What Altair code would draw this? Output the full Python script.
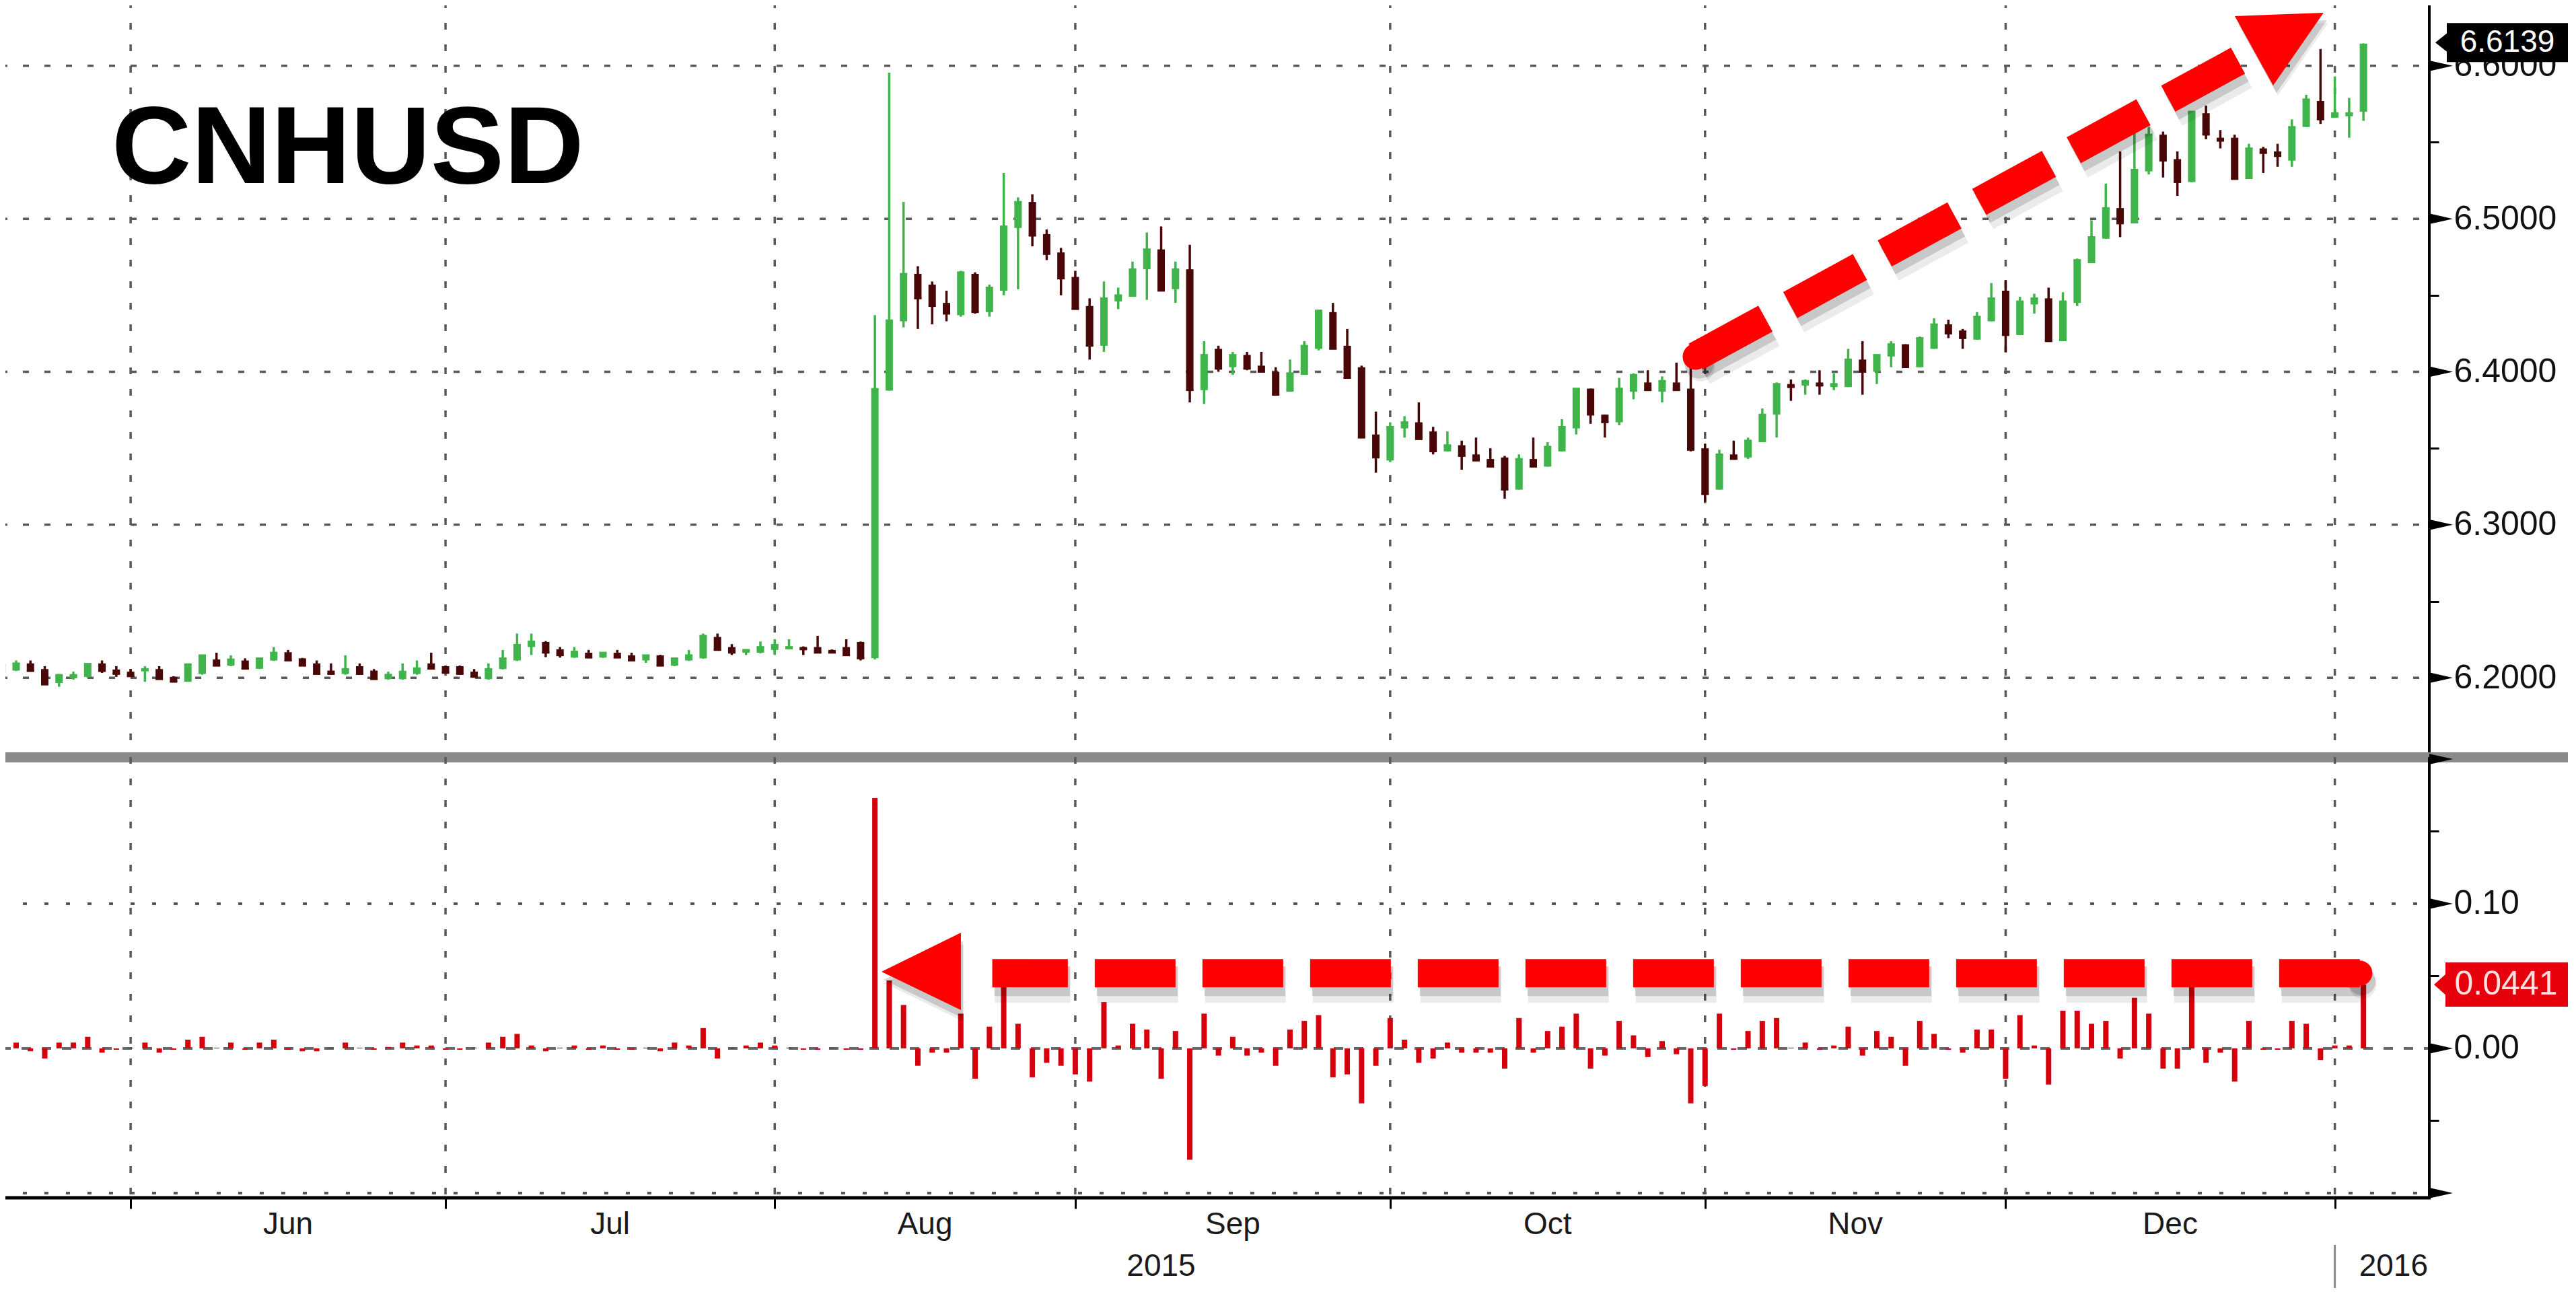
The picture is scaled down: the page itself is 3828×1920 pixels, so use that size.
import altair as alt
import pandas as pd

# ---------------- data ----------------
opens = [6.2032, 6.2047, 6.2094, 6.2057, 6.1966, 6.1996, 6.2006, 6.2094, 6.2054, 6.2040,
         6.2042, 6.2057, 6.2006, 6.1974, 6.2025, 6.2120, 6.2079, 6.2113, 6.2059, 6.2113,
         6.2167, 6.2127, 6.2094, 6.2047, 6.2025, 6.2076, 6.2047, 6.1991, 6.1991, 6.2025,
         6.2094, 6.2076, 6.2076, 6.2040, 6.1991, 6.2057, 6.2113, 6.2201, 6.2234, 6.2186,
         6.2132, 6.2164, 6.2132, 6.2164, 6.2147, 6.2113, 6.2147, 6.2079, 6.2113, 6.2127,
         6.2267, 6.2201, 6.2164, 6.2164, 6.2182, 6.2186, 6.2201, 6.2201, 6.2182, 6.2201,
         6.2234, 6.2127, 6.3877, 6.4330, 6.4640, 6.4570, 6.4450, 6.4370, 6.4640, 6.4390,
         6.4530, 6.4940, 6.5110, 6.4900, 6.4780, 6.4620, 6.4430, 6.4170, 6.4460, 6.4490,
         6.4670, 6.4800, 6.4540, 6.4670, 6.3880, 6.4150, 6.4030, 6.4110, 6.4040, 6.4000,
         6.3870, 6.3980, 6.4150, 6.4390, 6.4170, 6.4030, 6.3590, 6.3420, 6.3630, 6.3670,
         6.3610, 6.3480, 6.3520, 6.3460, 6.3430, 6.3440, 6.3230, 6.3430, 6.3380, 6.3480,
         6.3630, 6.3890, 6.3720, 6.3670, 6.3870, 6.3930, 6.3870, 6.3930, 6.3890, 6.3500,
         6.3230, 6.3460, 6.3440, 6.3540, 6.3720, 6.3920, 6.3910, 6.3930, 6.3900, 6.3900,
         6.4080, 6.4000, 6.4100, 6.4180, 6.4030, 6.4150, 6.4310, 6.4270, 6.4210, 6.4330,
         6.4530, 6.4240, 6.4440, 6.4480, 6.4200, 6.4450, 6.4710, 6.4870, 6.5070, 6.4970,
         6.5310, 6.5550, 6.5390, 6.5240, 6.5690, 6.5530, 6.5530, 6.5260, 6.5460, 6.5440,
         6.5380, 6.5600, 6.5770, 6.5660, 6.5670, 6.5700]
highs = [6.2090, 6.2113, 6.2113, 6.2076, 6.2025, 6.2040, 6.2094, 6.2113, 6.2076, 6.2057,
         6.2076, 6.2076, 6.2010, 6.2094, 6.2150, 6.2164, 6.2147, 6.2127, 6.2130, 6.2201,
         6.2182, 6.2130, 6.2113, 6.2094, 6.2147, 6.2094, 6.2057, 6.2040, 6.2094, 6.2113,
         6.2164, 6.2080, 6.2080, 6.2057, 6.2094, 6.2182, 6.2289, 6.2289, 6.2240, 6.2201,
         6.2201, 6.2182, 6.2167, 6.2182, 6.2164, 6.2150, 6.2150, 6.2130, 6.2182, 6.2289,
         6.2289, 6.2220, 6.2185, 6.2237, 6.2252, 6.2252, 6.2205, 6.2274, 6.2185, 6.2252,
         6.2237, 6.4370, 6.5955, 6.5110, 6.4690, 6.4590, 6.4530, 6.4660, 6.4650, 6.4570,
         6.5300, 6.5140, 6.5160, 6.4930, 6.4810, 6.4660, 6.4480, 6.4590, 6.4550, 6.4720,
         6.4910, 6.4950, 6.4720, 6.4830, 6.4200, 6.4170, 6.4130, 6.4130, 6.4130, 6.4030,
         6.4080, 6.4200, 6.4400, 6.4450, 6.4280, 6.4040, 6.3740, 6.3670, 6.3710, 6.3800,
         6.3640, 6.3610, 6.3550, 6.3570, 6.3500, 6.3450, 6.3460, 6.3570, 6.3540, 6.3690,
         6.3890, 6.3890, 6.3720, 6.3960, 6.3990, 6.4010, 6.3970, 6.4060, 6.4060, 6.3530,
         6.3490, 6.3550, 6.3570, 6.3760, 6.3930, 6.3950, 6.3950, 6.4010, 6.3990, 6.4150,
         6.4200, 6.4110, 6.4200, 6.4180, 6.4230, 6.4350, 6.4340, 6.4280, 6.4390, 6.4580,
         6.4600, 6.4490, 6.4510, 6.4550, 6.4520, 6.4740, 6.4990, 6.5230, 6.5440, 6.5560,
         6.5600, 6.5570, 6.5440, 6.5700, 6.5740, 6.5580, 6.5550, 6.5490, 6.5470, 6.5490,
         6.5650, 6.5810, 6.6110, 6.5930, 6.5790, 6.6146]
lows = [6.2020, 6.2044, 6.2042, 6.1956, 6.1941, 6.1988, 6.2000, 6.2032, 6.2006, 6.2006,
        6.1974, 6.1991, 6.1974, 6.1974, 6.2020, 6.2079, 6.2076, 6.2059, 6.2057, 6.2110,
        6.2113, 6.2079, 6.2025, 6.2020, 6.2020, 6.2020, 6.1991, 6.1988, 6.1988, 6.2020,
        6.2059, 6.2030, 6.2025, 6.2006, 6.1988, 6.2055, 6.2110, 6.2149, 6.2135, 6.2132,
        6.2130, 6.2130, 6.2130, 6.2130, 6.2110, 6.2098, 6.2079, 6.2076, 6.2110, 6.2125,
        6.2180, 6.2149, 6.2149, 6.2160, 6.2149, 6.2185, 6.2149, 6.2160, 6.2160, 6.2145,
        6.2113, 6.2120, 6.3877, 6.4290, 6.4280, 6.4310, 6.4330, 6.4360, 6.4380, 6.4360,
        6.4500, 6.4540, 6.4820, 6.4730, 6.4500, 6.4410, 6.4080, 6.4130, 6.4410, 6.4490,
        6.4470, 6.4530, 6.4450, 6.3800, 6.3790, 6.4000, 6.3980, 6.4010, 6.4000, 6.3850,
        6.3870, 6.3980, 6.4140, 6.4150, 6.3960, 6.3570, 6.3340, 6.3410, 6.3570, 6.3560,
        6.3460, 6.3480, 6.3360, 6.3420, 6.3380, 6.3170, 6.3230, 6.3380, 6.3380, 6.3480,
        6.3590, 6.3660, 6.3570, 6.3650, 6.3820, 6.3880, 6.3800, 6.3880, 6.3480, 6.3150,
        6.3230, 6.3430, 6.3430, 6.3540, 6.3570, 6.3810, 6.3850, 6.3850, 6.3880, 6.3900,
        6.3850, 6.3920, 6.4030, 6.4030, 6.4030, 6.4150, 6.4220, 6.4150, 6.4210, 6.4330,
        6.4130, 6.4240, 6.4380, 6.4200, 6.4200, 6.4430, 6.4710, 6.4870, 6.4880, 6.4970,
        6.5290, 6.5270, 6.5150, 6.5240, 6.5520, 6.5460, 6.5260, 6.5260, 6.5300, 6.5340,
        6.5340, 6.5600, 6.5620, 6.5660, 6.5530, 6.5640]
closes = [6.2084, 6.2094, 6.2044, 6.1956, 6.2018, 6.2018, 6.2091, 6.2044, 6.2025, 6.2010,
          6.2057, 6.1991, 6.1974, 6.2088, 6.2147, 6.2079, 6.2120, 6.2059, 6.2127, 6.2164,
          6.2113, 6.2079, 6.2025, 6.2025, 6.2057, 6.2025, 6.1991, 6.2020, 6.2040, 6.2062,
          6.2059, 6.2032, 6.2025, 6.2006, 6.2057, 6.2127, 6.2215, 6.2237, 6.2164, 6.2147,
          6.2171, 6.2132, 6.2164, 6.2132, 6.2113, 6.2147, 6.2079, 6.2127, 6.2147, 6.2274,
          6.2182, 6.2164, 6.2182, 6.2201, 6.2215, 6.2201, 6.2186, 6.2164, 6.2164, 6.2147,
          6.2127, 6.3888, 6.4336, 6.4640, 6.4480, 6.4430, 6.4380, 6.4650, 6.4390, 6.4550,
          6.4950, 6.5110, 6.4890, 6.4770, 6.4610, 6.4410, 6.4170, 6.4480, 6.4500, 6.4670,
          6.4800, 6.4530, 6.4670, 6.3880, 6.4110, 6.4020, 6.4110, 6.4020, 6.4000, 6.3850,
          6.3990, 6.4170, 6.4400, 6.4150, 6.3960, 6.3570, 6.3440, 6.3640, 6.3670, 6.3560,
          6.3480, 6.3520, 6.3450, 6.3420, 6.3380, 6.3230, 6.3430, 6.3380, 6.3510, 6.3640,
          6.3890, 6.3720, 6.3670, 6.3890, 6.3980, 6.3880, 6.3940, 6.3880, 6.3490, 6.3200,
          6.3460, 6.3430, 6.3550, 6.3720, 6.3920, 6.3900, 6.3940, 6.3910, 6.3920, 6.4080,
          6.4000, 6.4110, 6.4180, 6.4030, 6.4220, 6.4310, 6.4250, 6.4220, 6.4360, 6.4480,
          6.4240, 6.4460, 6.4480, 6.4200, 6.4460, 6.4730, 6.4880, 6.5070, 6.4970, 6.5320,
          6.5550, 6.5380, 6.5240, 6.5700, 6.5550, 6.5510, 6.5260, 6.5460, 6.5430, 6.5410,
          6.5600, 6.5780, 6.5650, 6.5690, 6.5690, 6.6139]
changes = [0.004, 0.004, -0.002, -0.007, 0.004, 0.004, 0.008, -0.003, -0.001, 0.0005,
           0.004, -0.003, -0.001, 0.006, 0.008, 0.0005, 0.004, -0.001, 0.004, 0.006,
           -0.001, -0.002, -0.002, 0.0005, 0.004, 0.0005, -0.001, 0.001, 0.004, 0.002,
           0.002, -0.001, -0.001, 0.0005, 0.004, 0.008, 0.010, 0.002, -0.002, 0.0005,
           0.002, -0.001, 0.002, -0.001, -0.001, 0.0005, -0.002, 0.004, 0.002, 0.014,
           -0.007, 0.0005, 0.002, 0.004, 0.002, 0.0005, -0.001, -0.001, 0.0005, -0.001,
           -0.001, 0.173, 0.047, 0.030, -0.012, -0.003, -0.003, 0.024, -0.021, 0.015,
           0.043, 0.017, -0.020, -0.010, -0.012, -0.018, -0.023, 0.032, 0.002, 0.017,
           0.013, -0.021, 0.012, -0.077, 0.024, -0.005, 0.008, -0.005, -0.003, -0.012,
           0.013, 0.019, 0.023, -0.020, -0.018, -0.038, -0.012, 0.021, 0.006, -0.010,
           -0.007, 0.004, -0.003, -0.003, -0.003, -0.014, 0.021, -0.003, 0.012, 0.015,
           0.024, -0.014, -0.005, 0.019, 0.009, -0.006, 0.005, -0.004, -0.038, -0.026,
           0.024, -0.001, 0.012, 0.019, 0.021, 0.0005, 0.004, -0.001, 0.002, 0.015,
           -0.005, 0.012, 0.008, -0.012, 0.019, 0.010, -0.001, -0.003, 0.013, 0.013,
           -0.021, 0.023, 0.002, -0.025, 0.026, 0.026, 0.017, 0.019, -0.007, 0.035,
           0.024, -0.014, -0.014, 0.045, -0.010, -0.003, -0.023, 0.019, -0.001, -0.001,
           0.019, 0.017, -0.008, 0.002, 0.002, 0.0441]

month_ticks = [9, 31, 54, 75, 97, 119, 140, 163]
month_names = ["Jun", "Jul", "Aug", "Sep", "Oct", "Nov", "Dec"]
month_label_pos = [20, 42.5, 64.5, 86, 108, 129.5, 151.5]
year_names = ["2015", "2016"]
year_label_pos = [81, 167.1]
year_break = [163]
price_major = [6.2, 6.3, 6.4, 6.5, 6.6]
price_minor = [6.25, 6.35, 6.45, 6.55]
chg_major = [-0.1, 0.0, 0.1, 0.2]
chg_minor = [-0.05, 0.05, 0.15]
chg_dotted = [-0.1, 0.1]
last_price = 6.6139
last_change = 0.0441
title_text = "CNHUSD"

# annotation arrows (in data units: trading-day index, price / change)
up_arrow_i = [118.35, 157.1]
up_arrow_v = [6.4099, 6.6078]
up_head_i = [156.01, 158.69, 162.21]
up_head_top = [6.6324, 6.6334, 6.6346]
up_head_bot = [6.6324, 6.5871, 6.6346]
dn_arrow_i = [164.75, 69.2]
dn_arrow_v = [0.052, 0.052]
dn_head_i = [61.46, 67.01]
dn_head_top = [0.053, 0.080]
dn_head_bot = [0.053, 0.0265]

# ---------------- layout / style ----------------
W = 3610
H1 = 1125
H2 = 655
XDOM = [-0.127, 169.6]
YDOM1 = [6.1482, 6.6430]
YDOM2 = [-0.1033, 0.2014]
FONT = "Liberation Sans"
GREEN = "#3fb44a"
DARK = "#4a0707"
BARRED = "#d6000c"
ARROW = "#ff0000"
GRID = "#595959"

n = len(closes)
cdf = pd.DataFrame({"i": list(range(n)), "o": opens, "h": highs, "l": lows, "c": closes})
bdf = pd.DataFrame({"i": list(range(n)), "v": changes, "z": [0.0] * n})
mt_df = pd.DataFrame({"i": month_ticks})
one = pd.DataFrame({"a": [0]})

xscale = alt.Scale(domain=XDOM, nice=False, zero=False)
ax_top = alt.Axis(orient="right", values=price_major + price_minor,
                  labelExpr="abs(datum.value*10 - round(datum.value*10)) < 0.001 ? format(datum.value, '.4f') : ''",
                  title=None, grid=False, domain=False,
                  tickColor="black", tickWidth=3, tickSize=14, labelPadding=22,
                  labelFontSize=50, labelFont=FONT, labelColor="#111", labelBaseline="middle")
ax_bot = alt.Axis(orient="right", values=chg_major + chg_minor,
                  labelExpr="(datum.value == 0.1 || datum.value == 0) ? format(datum.value, '.2f') : ''",
                  title=None, grid=False, domain=False,
                  tickColor="black", tickWidth=3, tickSize=14, labelPadding=22,
                  labelFontSize=50, labelFont=FONT, labelColor="#111", labelBaseline="middle")
ax_x = alt.Axis(orient="bottom", values=month_ticks, labels=False, title=None, grid=False,
                domain=False, tickColor="black", tickWidth=3, tickSize=16)

ys1 = alt.Scale(domain=YDOM1, nice=False, zero=False)
ys2 = alt.Scale(domain=YDOM2, nice=False, zero=False)


def X(field, bottom=False):
    return alt.X(field, type="quantitative", scale=xscale, axis=(ax_x if bottom else None))


def Y1(field):
    return alt.Y(field, type="quantitative", scale=ys1, axis=ax_top)


def Y2(field):
    return alt.Y(field, type="quantitative", scale=ys2, axis=ax_bot)


upcol = alt.condition("datum.c >= datum.o", alt.value(GREEN), alt.value(DARK))

# ---------------- top panel ----------------
vgrid1 = alt.Chart(mt_df).mark_rule(color=GRID, strokeWidth=3.5, strokeDash=[10, 22]).encode(
    x=X("i"), y=alt.value(2), y2=alt.value(H1))
hgrid1 = alt.Chart(pd.DataFrame({"p": price_major})).mark_rule(
    color=GRID, strokeWidth=3.5, strokeDash=[9, 23]).encode(
    y=Y1("p"), x=alt.value(2), x2=alt.value(W))
wicks = alt.Chart(cdf).mark_rule(strokeWidth=3.5, clip=True).encode(
    x=X("i"), y=Y1("l"), y2="h", color=upcol)
bodies = alt.Chart(cdf).mark_rule(strokeWidth=11, clip=True).encode(
    x=X("i"), y=Y1("o"), y2="c", color=upcol)
dojis = alt.Chart(cdf).mark_point(shape="M-1,-0.25L1,-0.25L1,0.25L-1,0.25Z", size=121,
                                  filled=True, opacity=1, clip=True).encode(
    x=X("i"), y=Y1("c"), color=upcol)
title = alt.Chart(pd.DataFrame({"t": [title_text]})).mark_text(
    font=FONT, fontSize=164, fontWeight="bold", align="left", baseline="alphabetic",
    color="black").encode(text="t:N", x=alt.value(166), y=alt.value(272))

up_df = pd.DataFrame({"i": up_arrow_i, "v": up_arrow_v, "k": [0, 1]})
up_start = pd.DataFrame({"i": up_arrow_i[:1], "v": up_arrow_v[:1]})
up_head = pd.DataFrame({"i": up_head_i, "t": up_head_top, "b": up_head_bot})
up_layers = []
for dx, dy, col, op, sw in [(7, 15, "#000", 0.08, 58), (5, 11, "#000", 0.15, 46), (0, 0, ARROW, 1, 44)]:
    up_layers.append(alt.Chart(up_df).mark_line(color=col, opacity=op, strokeWidth=sw,
                                                strokeDash=[118, 42], strokeCap="butt",
                                                strokeJoin="bevel",
                                                xOffset=dx, yOffset=dy).encode(
        x=X("i"), y=Y1("v"), order="k:Q"))
    up_layers.append(alt.Chart(up_start).mark_point(shape="circle", filled=True, color=col,
                                                    opacity=op, size=1520 if sw == 44 else 1900,
                                                    xOffset=dx, yOffset=dy).encode(
        x=X("i"), y=Y1("v")))
    up_layers.append(alt.Chart(up_head).mark_area(color=col, opacity=op,
                                                  xOffset=dx, x2Offset=dx,
                                                  yOffset=dy, y2Offset=dy).encode(
        x=X("i"), y=Y1("t"), y2="b"))

lp_df = pd.DataFrame({"v": [last_price], "t": [f"{last_price:.4f}"],
                      "top": [last_price + 0.0140], "bot": [last_price - 0.0115]})
tag1 = alt.Chart(lp_df).mark_rect(color="black").encode(
    y=Y1("top"), y2="bot", x=alt.value(W + 26), x2=alt.value(W + 206))
tag1p = alt.Chart(lp_df).mark_point(shape="M-1,0L1,-1.6L1,1.6Z", filled=True, color="black",
                                    opacity=1, size=324, yOffset=-3).encode(
    y=Y1("v"), x=alt.value(W + 18))
tag1t = alt.Chart(lp_df).mark_text(font=FONT, fontSize=46, color="white", align="center",
                                   baseline="middle", yOffset=-3).encode(
    y=Y1("v"), x=alt.value(W + 116), text="t:N")
TRI = "M-1,-0.45L1,0L-1,0.45Z"
tri1 = alt.Chart(pd.DataFrame({"p": price_major})).mark_point(
    shape=TRI, filled=True, color="black", opacity=1, size=1225).encode(
    y=Y1("p"), x=alt.value(W + 17.5))
yline1 = alt.Chart(one).mark_rect(color="black").encode(
    x=alt.value(W - 2), x2=alt.value(W + 2), y=alt.value(0), y2=alt.value(H1))
sep = alt.Chart(one).mark_rect(color="#8a8a8a").encode(
    x=alt.value(0), x2=alt.value(3816), y=alt.value(H1 - 7), y2=alt.value(H1 + 8))

top = alt.layer(vgrid1, hgrid1, wicks, bodies, dojis, title, *up_layers, yline1, tri1,
                tag1, tag1p, tag1t, sep).properties(width=W, height=H1)

# ---------------- bottom panel ----------------
vgrid2 = alt.Chart(mt_df).mark_rule(color=GRID, strokeWidth=3.5, strokeDash=[10, 22]).encode(
    x=X("i", True), y=alt.value(0), y2=alt.value(H2))
hgrid2 = alt.Chart(pd.DataFrame({"p": chg_dotted})).mark_rule(
    color=GRID, strokeWidth=4, strokeDash=[6, 26]).encode(
    y=Y2("p"), x=alt.value(2), x2=alt.value(W))
zline = alt.Chart(pd.DataFrame({"p": [0.0]})).mark_rule(
    color="#666", strokeWidth=4, strokeDash=[14, 16]).encode(
    y=Y2("p"), x=alt.value(2), x2=alt.value(W))
bars = alt.Chart(bdf).mark_rule(strokeWidth=8, color=BARRED, clip=True).encode(
    x=X("i", True), y=Y2("v"), y2="z")

mon_df = pd.DataFrame({"i": month_label_pos, "t": month_names})
mon = alt.Chart(mon_df).mark_text(font=FONT, fontSize=46, color="#1a1a1a", baseline="middle").encode(
    x=X("i", True), y=alt.value(H2 + 40), text="t:N")
yr_df = pd.DataFrame({"i": year_label_pos, "t": year_names})
yr = alt.Chart(yr_df).mark_text(font=FONT, fontSize=46, color="#1a1a1a", baseline="middle").encode(
    x=X("i", True), y=alt.value(H2 + 102), text="t:N")
yrsep = alt.Chart(pd.DataFrame({"i": year_break})).mark_rule(color="#888", strokeWidth=3).encode(
    x=X("i", True), y=alt.value(H2 + 70), y2=alt.value(H2 + 134))

dn_df = pd.DataFrame({"i": dn_arrow_i, "v": dn_arrow_v, "k": [0, 1]})
dn_start = pd.DataFrame({"i": dn_arrow_i[:1], "v": dn_arrow_v[:1]})
dn_head = pd.DataFrame({"i": dn_head_i, "t": dn_head_top, "b": dn_head_bot})
dn_layers = []
for dx, dy, col, op, sw in [(4, 17, "#000", 0.08, 54), (3, 12, "#000", 0.15, 44), (0, 0, ARROW, 1, 42)]:
    dn_layers.append(alt.Chart(dn_df).mark_line(color=col, opacity=op, strokeWidth=sw,
                                                strokeDash=[120, 40], strokeCap="butt",
                                                strokeJoin="bevel",
                                                xOffset=dx, yOffset=dy).encode(
        x=X("i", True), y=Y2("v"), order="k:Q"))
    dn_layers.append(alt.Chart(dn_start).mark_point(shape="circle", filled=True, color=col,
                                                    opacity=op, size=1385 if sw == 42 else 1700,
                                                    xOffset=dx, yOffset=dy).encode(
        x=X("i", True), y=Y2("v")))
    dn_layers.append(alt.Chart(dn_head).mark_area(color=col, opacity=op,
                                                  xOffset=dx, x2Offset=dx,
                                                  yOffset=dy, y2Offset=dy).encode(
        x=X("i", True), y=Y2("t"), y2="b"))

lc_df = pd.DataFrame({"v": [last_change], "t": [f"{last_change:.4f}"],
                      "top": [last_change + 0.0153], "bot": [last_change - 0.0153]})
tag2 = alt.Chart(lc_df).mark_rect(color="#e5000c").encode(
    y=Y2("top"), y2="bot", x=alt.value(W + 24), x2=alt.value(W + 206))
tag2p = alt.Chart(lc_df).mark_point(shape="M-1,0L1,-1.8L1,1.8Z", filled=True, color="#e5000c",
                                    opacity=1, size=324).encode(
    y=Y2("v"), x=alt.value(W + 16))
tag2t = alt.Chart(lc_df).mark_text(font=FONT, fontSize=50, color="#ffe0e0", align="center",
                                   baseline="middle").encode(
    y=Y2("v"), x=alt.value(W + 114), text="t:N")
tri2 = alt.Chart(pd.DataFrame({"p": chg_major})).mark_point(
    shape=TRI, filled=True, color="black", opacity=1, size=1225).encode(
    y=Y2("p"), x=alt.value(W + 17.5))
yline2 = alt.Chart(one).mark_rect(color="black").encode(
    x=alt.value(W - 2), x2=alt.value(W + 2), y=alt.value(0), y2=alt.value(H2))
xline = alt.Chart(one).mark_rect(color="black").encode(
    x=alt.value(0), x2=alt.value(W + 2), y=alt.value(H2 - 2.5), y2=alt.value(H2 + 2.5))

bottom = alt.layer(vgrid2, hgrid2, zline, bars, mon, yr, yrsep, *dn_layers, yline2, xline, tri2,
                   tag2, tag2p, tag2t).properties(width=W, height=H2)

chart = alt.vconcat(top, bottom, spacing=0, bounds="flush").properties(
    padding={"left": -8, "top": -8, "right": 0, "bottom": 0},
    background="white",
).configure_view(strokeWidth=0)

chart.save("out.html", embed_options={"renderer": "svg", "actions": False})
